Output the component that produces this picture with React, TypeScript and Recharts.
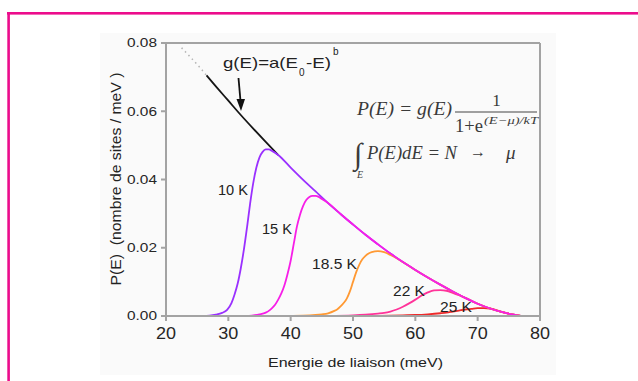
import React from 'react';
import { LineChart, Line, XAxis, YAxis, ReferenceLine } from 'recharts';

// upper envelope g(E)=a(E0-E)^b, read along the top edge of the curves
const envelopeE = [26.5, 28, 30, 32, 34, 36, 38, 40, 42, 44, 46, 48, 50, 52, 54, 56, 58, 60, 62, 64, 66, 68, 70, 72, 74, 76, 77.5, 80];
const envelopeP = [0.0705, 0.0673, 0.0631, 0.0589, 0.0549, 0.051, 0.0472, 0.0435, 0.0399, 0.0365, 0.0331, 0.0299, 0.0268, 0.0238, 0.021, 0.0183, 0.0158, 0.0135, 0.0113, 0.0092, 0.0072, 0.0053, 0.0036, 0.0022, 0.0011, 0.0003, 0, 0];

// dotted extrapolation of g(E)
const dottedE = [22.5, 24, 25.5, 26.5];
const dottedP = [0.0786, 0.0757, 0.0727, 0.0705];

// black part of g(E)
const blackEnd = 38;

// rising part of each temperature curve (before it joins the envelope)
const rise10E = [20, 26, 27, 28, 29, 29.8, 30.5, 31, 31.5, 32, 32.5, 33, 33.5, 34, 34.5, 35, 35.5, 36, 36.5, 37];
const rise10P = [0, 0, 0.0001, 0.0004, 0.0009, 0.0018, 0.0038, 0.0063, 0.0095, 0.014, 0.0195, 0.026, 0.033, 0.039, 0.0435, 0.0465, 0.0481, 0.0488, 0.0488, 0.0484];

const rise15E = [27, 33, 34, 35, 36, 36.7, 37, 37.5, 38, 38.5, 39, 39.5, 40, 40.5, 41, 41.5, 42, 42.5, 43, 43.5, 44, 44.5, 45];
const rise15P = [0, 0, 0.0002, 0.0005, 0.001, 0.0018, 0.0023, 0.0033, 0.0048, 0.0066, 0.009, 0.0123, 0.0162, 0.0212, 0.0262, 0.0297, 0.0323, 0.034, 0.0349, 0.0352, 0.0352, 0.0349, 0.0343];

const rise185E = [38, 42, 44, 45, 46, 47, 47.5, 48, 48.5, 49, 49.5, 50, 50.5, 51, 51.5, 52, 52.5, 53, 54, 55, 56, 57];
const rise185P = [0, 0.0001, 0.0003, 0.0005, 0.0008, 0.0015, 0.002, 0.0028, 0.0038, 0.0051, 0.0072, 0.01, 0.0128, 0.015, 0.0166, 0.0176, 0.0183, 0.0187, 0.019, 0.0187, 0.0179, 0.0169];

const rise22E = [46, 50, 52, 54, 55, 56, 57, 58, 59, 60, 61, 62, 63, 64, 65, 66, 67];
const rise22P = [0, 0.0002, 0.0004, 0.0007, 0.0009, 0.0013, 0.0019, 0.0027, 0.0037, 0.0048, 0.006, 0.0069, 0.0075, 0.0076, 0.0074, 0.0068, 0.0061];

const rise25E = [54, 58, 60, 62, 64, 65, 66, 67, 68, 69, 70, 71];
const rise25P = [0, 0.0002, 0.0003, 0.0005, 0.0008, 0.001, 0.0013, 0.0016, 0.0019, 0.0021, 0.0023, 0.0023];

const xTicks = [20, 30, 40, 50, 60, 70, 80];
const yTicks = [0, 0.02, 0.04, 0.06, 0.08];

const toPoints = (es: number[], ps: number[]) => es.map((e, i) => ({ e, p: ps[i] }));
const envelope = toPoints(envelopeE, envelopeP);
const withTail = (es: number[], ps: number[], from: number) => [
  ...toPoints(es, ps),
  ...envelope.filter((d) => d.e >= from),
];

const curve10 = withTail(rise10E, rise10P, 38);
const curve15 = withTail(rise15E, rise15P, 46);
const curve185 = withTail(rise185E, rise185P, 58);
const curve22 = withTail(rise22E, rise22P, 68);
const curve25 = withTail(rise25E, rise25P, 72);
const gSolid = envelope.filter((d) => d.e <= blackEnd);
const gDotted = toPoints(dottedE, dottedP);

const SANS = '"Liberation Sans", Arial, sans-serif';
const SERIF = '"Liberation Serif", "Times New Roman", serif';
const AXIS = '#a3a3a3';

const YTick = ({ x, y, payload }: any) => (
  <text x={x} y={y} dy="0.35em" textAnchor="end" fontFamily={SANS} fontSize={12.5} fill="#262626"
    textLength={30} lengthAdjust="spacingAndGlyphs">
    {Number(payload.value).toFixed(2)}
  </text>
);

const XTick = ({ x, y, payload }: any) => (
  <text x={x} y={y} dy="0.71em" textAnchor="middle" fontFamily={SANS} fontSize={16} fill="#262626"
    textLength={20} lengthAdjust="spacingAndGlyphs">
    {payload.value}
  </text>
);

const tempLabels = [
  { t: '10 K', x: 218, y: 195, w: 30 },
  { t: '15 K', x: 262, y: 234, w: 30 },
  { t: '18.5 K', x: 312, y: 269, w: 45 },
  { t: '22 K', x: 393, y: 296, w: 32 },
  { t: '25 K', x: 440, y: 312, w: 32 },
];

const lineProps = { type: 'monotone' as const, dataKey: 'p', dot: false, isAnimationActive: false, strokeWidth: 1.8 };

export default function App() {
  return (
    <div style={{ position: 'absolute', left: 0, top: 0, width: 638, height: 381, background: '#fff' }}>
      <svg width={638} height={381} style={{ position: 'absolute', left: 0, top: 0 }}>
        <rect x={100} y={33} width={456} height={342} fill="#fafafa" />
        <rect x={7} y={12} width={631} height={2.6} fill="#ec0c8c" />
        <rect x={7.3} y={12} width={2.6} height={369} fill="#ec0c8c" />
      </svg>
      <div style={{ position: 'absolute', left: 0, top: 0 }}>
        <LineChart width={638} height={381} margin={{ top: 43, right: 98, bottom: 35, left: 106 }}>
          <XAxis dataKey="e" type="number" domain={[20, 80]} ticks={xTicks} height={30}
            stroke={AXIS} strokeWidth={2} tickSize={5} tickMargin={7} tick={XTick} allowDuplicatedCategory={false} />
          <YAxis type="number" domain={[0, 0.08]} ticks={yTicks} width={60}
            stroke={AXIS} strokeWidth={2} tickSize={5} tickMargin={4} tick={YTick} />
          <ReferenceLine y={0.08} stroke={AXIS} strokeWidth={2} />
          <ReferenceLine x={80} stroke={AXIS} strokeWidth={2} />
          <Line {...lineProps} data={gDotted} stroke="#b5b5b5" strokeWidth={1.5} strokeDasharray="1.5 3.5" />
          <Line {...lineProps} data={gSolid} stroke="#151515" />
          <Line {...lineProps} data={curve10} stroke="#9a30ff" />
          <Line {...lineProps} data={curve25} stroke="#ee2a2a" />
          <Line {...lineProps} data={curve22} stroke="#ff3399" />
          <Line {...lineProps} data={curve185} stroke="#ff9933" />
          <Line {...lineProps} data={curve15} stroke="#f71ee8" />
        </LineChart>
      </div>
      <svg width={638} height={381} style={{ position: 'absolute', left: 0, top: 0, pointerEvents: 'none' }}>
        <g fontFamily={SANS} fill="#222">
          <text transform="translate(121,179) rotate(-90)" textAnchor="middle" fontSize={15}
            textLength={213} lengthAdjust="spacingAndGlyphs" style={{ whiteSpace: 'pre' }}>
            {'P(E)  (nombre de sites / meV )'}
          </text>
          <text x={268} y={367} fontSize={13} textLength={175} lengthAdjust="spacingAndGlyphs">
            Energie de liaison (meV)
          </text>
          <text x={223} y={68} fontSize={15} textLength={75} lengthAdjust="spacingAndGlyphs">g(E)=a(E</text>
          <text x={299} y={76} fontSize={10}>0</text>
          <text x={306} y={68} fontSize={15} textLength={25} lengthAdjust="spacingAndGlyphs">-E)</text>
          <text x={333} y={55} fontSize={10}>b</text>
          {tempLabels.map((l) => (
            <text key={l.t} x={l.x} y={l.y} fontSize={14} textLength={l.w} lengthAdjust="spacingAndGlyphs">
              {l.t}
            </text>
          ))}
        </g>
        <line x1={238.5} y1={78} x2={240.5} y2={101} stroke="#111" strokeWidth={1.8} />
        <polygon points="236.5,99 245,99 241,111" fill="#111" />
        <g fontFamily={SERIF} fill="#3a3a3a">
          <text x={357} y={115} fontSize={19} fontStyle="italic" textLength={95} lengthAdjust="spacingAndGlyphs">
            P(E) = g(E)
          </text>
          <text x={496.5} y={106} fontSize={17} textAnchor="middle">1</text>
          <line x1={455} y1={112} x2={537} y2={112} stroke="#444" strokeWidth={1.2} />
          <text x={455} y={132} fontSize={18} textLength={28} lengthAdjust="spacingAndGlyphs">1+e</text>
          <text x={484} y={124} fontSize={10.5} fontStyle="italic" textLength={54} lengthAdjust="spacingAndGlyphs">
            (E−μ)/kT
          </text>
          <text x={354} y={164} fontSize={30}>∫</text>
          <text x={357} y={178} fontSize={10} fontStyle="italic">E</text>
          <text x={367} y={159} fontSize={19} fontStyle="italic" textLength={90} lengthAdjust="spacingAndGlyphs">
            P(E)dE = N
          </text>
          <text x={470} y={157} fontSize={16}>→</text>
          <text x={506} y={159} fontSize={19} fontStyle="italic">μ</text>
        </g>
      </svg>
    </div>
  );
}
